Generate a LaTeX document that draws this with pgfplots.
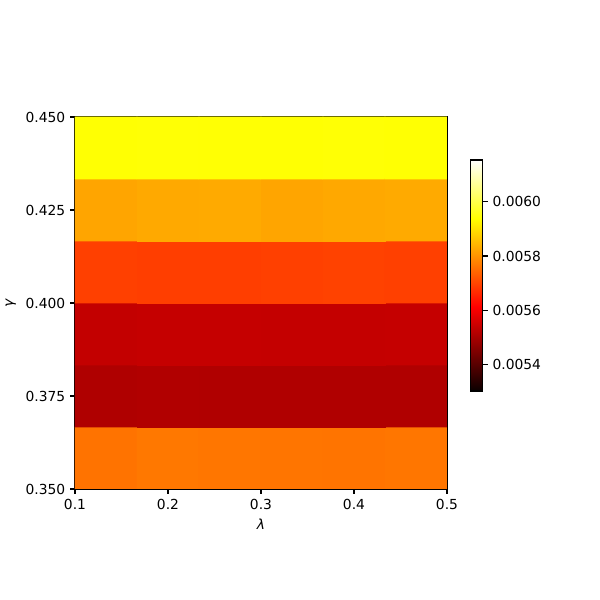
\documentclass[border=0pt]{standalone}
\usepackage{pgfplots}
\pgfplotsset{compat=1.18}
\usepackage{fontspec}
\setmainfont{DejaVu Sans}
\begin{document}
\begin{tikzpicture}[x=1in,y=1in]
\useasboundingbox (-0.75,-1.11) rectangle (5.25,4.89);
\begin{axis}[
  at={(0,0)}, anchor=south west,
  scale only axis, width=3.72in, height=3.72in,
  xmin=0.1, xmax=0.5, ymin=0.35, ymax=0.45,
  xtick={0.1,0.2,0.3,0.4,0.5}, xticklabels={0.1,0.2,0.3,0.4,0.5},
  ytick={0.35,0.375,0.4,0.425,0.45}, yticklabels={0.350,0.375,0.400,0.425,0.450},
  tick align=outside, tick pos=left,
  major tick length=0.049in,
  every tick/.style={black, line width=0.8pt},
  axis line style={line width=0.8pt},
  tick label style={font=\fontsize{10}{12}\selectfont},
  label style={font=\fontsize{10}{12}\selectfont},
  xlabel={\itshape λ}, ylabel={\itshape γ},
  colormap={hot}{rgb(0pt)=(0.0416,0,0); rgb(365pt)=(1,0,0); rgb(746pt)=(1,1,0); rgb(1000pt)=(1,1,1)},
  point meta min=0.005304, point meta max=0.006153,
  colorbar right,
  colorbar style={
    at={(parent axis.north east)}, anchor=north west,
    xshift=0.12in, yshift=-0.43in,
    scale only axis, width=0.12in, height=2.31in,
    ytick={0.0054,0.0056,0.0058,0.006},
    yticklabels={0.0054,0.0056,0.0058,0.0060},
    scaled y ticks=false,
    tick align=outside, ytick pos=right, yticklabel pos=right,
    major tick length=0.049in,
    every tick/.style={black, line width=0.8pt},
    axis line style={line width=0.8pt},
    tick label style={font=\fontsize{10}{12}\selectfont},
  },
]
\addplot[matrix plot*, mesh/cols=6, point meta=explicit] table[meta=c] {
x y c
0.133333 0.358333 0.005760
0.200000 0.358333 0.005766
0.266667 0.358333 0.005763
0.333333 0.358333 0.005762
0.400000 0.358333 0.005761
0.466667 0.358333 0.005763
0.133333 0.375000 0.005513
0.200000 0.375000 0.005515
0.266667 0.375000 0.005514
0.333333 0.375000 0.005514
0.400000 0.375000 0.005514
0.466667 0.375000 0.005514
0.133333 0.391667 0.005538
0.200000 0.391667 0.005540
0.266667 0.391667 0.005540
0.333333 0.391667 0.005539
0.400000 0.391667 0.005539
0.466667 0.391667 0.005540
0.133333 0.408333 0.005695
0.200000 0.408333 0.005693
0.266667 0.408333 0.005693
0.333333 0.408333 0.005695
0.400000 0.408333 0.005697
0.466667 0.408333 0.005695
0.133333 0.425000 0.005823
0.200000 0.425000 0.005828
0.266667 0.425000 0.005830
0.333333 0.425000 0.005823
0.400000 0.425000 0.005827
0.466667 0.425000 0.005830
0.133333 0.441667 0.005940
0.200000 0.441667 0.005942
0.266667 0.441667 0.005941
0.333333 0.441667 0.005940
0.400000 0.441667 0.005942
0.466667 0.441667 0.005940
};
\end{axis}
\end{tikzpicture}
\end{document}
